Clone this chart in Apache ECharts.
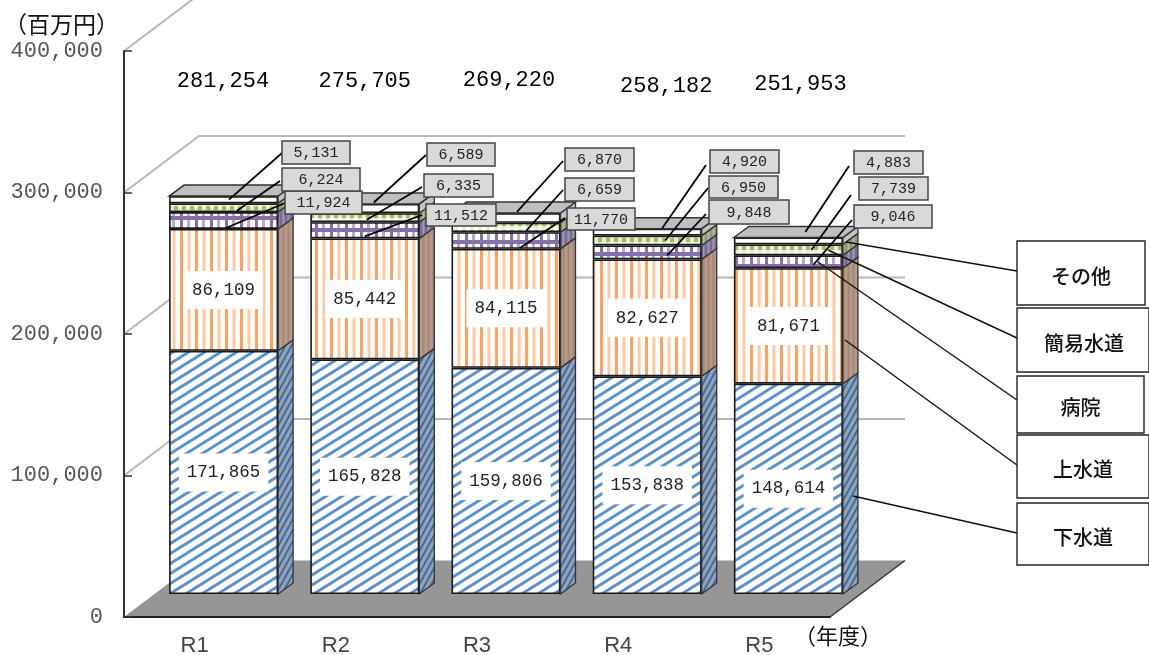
<!DOCTYPE html>
<html><head><meta charset="utf-8">
<style>html,body{margin:0;padding:0;background:#fff}#c{width:1149px;height:655px}</style>
<script src="https://cdn.jsdelivr.net/npm/echarts@6/dist/echarts.min.js"></script>
</head><body><div id="c"></div>
<script>
// ---- data ----
const categories = ['R1','R2','R3','R4','R5'];
const gesui  = [171865,165828,159806,153838,148614];
const josui  = [86109,85442,84115,82627,81671];
const byoin  = [11924,11512,11770,9848,9046];
const kani   = [6224,6335,6659,6950,7739];
const sonota = [5131,6589,6870,4920,4883];
const totals = [281254,275705,269220,258182,251953];
const seriesNames = ['下水道','上水道','病院','簡易水道','その他'];
const yTicks = [0,100000,200000,300000,400000];

// ---- annotation layout (page placement, not data) ----
const MONO = '"Liberation Mono","DejaVu Sans Mono",monospace';
const CJK = '"Noto Sans CJK JP","Noto Sans",sans-serif';
const DEPTH = [15,-11], WALL = [75,-56.5];
const totalShift = [[-0.6,-115],[0,-123],[3,-133],[19,-143],[12,-153.5]];
const boxes = {
 2:[[285,191,77,23],[426,204,70,22],[567,208,68,22],[709,200,80,24],[854,205,78,23]],
 3:[[282,168,78,23],[424,174,69,23],[565,178,69,23],[709,176,69,22],[859,177,69,23]],
 4:[[282,141,68,23],[427,143,68,23],[565,148,69,23],[710,150,69,23],[854,151,69,23]]
};
const lineStarts = {
 2:[[285,203],[422,215],[565,218],[706,214],[852,220]],
 3:[[280,181],[422,187],[563,190],[708,188],[851,195]],
 4:[[282,153],[426,155],[563,161],[706,165],[849,166]]
};
const tipShift = {
 2:[[2.4,7.5],[0,6],[14,7.5],[20,3],[25,3]],
 3:[[13.4,3],[2,2],[20,3.5],[18,0],[23,0]],
 4:[[5.4,0],[9,-6],[11,-6],[15,-4],[17,-9]]
};
const legendBoxes = [
 {name:'その他',  box:[1017,241,128,64], from:[1017,271], to:[846,242]},
 {name:'簡易水道',box:[1017,308,132,64], from:[1017,338], to:[828,250]},
 {name:'病院',    box:[1017,376,127,57], from:[1017,400], to:[818,262]},
 {name:'上水道',  box:[1017,435,132,63], from:[1017,465], to:[845,340]},
 {name:'下水道',  box:[1017,503,132,62], from:[1017,533], to:[853,496]}
];

// ---- patterns ----
function tile(w,h,draw){const c=document.createElement('canvas');c.width=w;c.height=h;const g=c.getContext('2d');g.fillStyle='#fff';g.fillRect(0,0,w,h);draw(g,w,h);return {image:c,repeat:'repeat'};}
function diag(color,lw,bg){return (g,w,h)=>{if(bg){g.fillStyle=bg;g.fillRect(0,0,w,h);}g.strokeStyle=color;g.lineWidth=lw;for(let k=-2;k<=2;k++){g.beginPath();g.moveTo(-w,2*h+k*h);g.lineTo(2*w,-h+k*h);g.stroke();}};}
function vstripes(bg,a,b){return (g,w,h)=>{g.fillStyle=bg;g.fillRect(0,0,w,h);g.fillStyle=a;g.fillRect(0,0,2,h);g.fillStyle=b;g.fillRect(3,0,1,h);};}
const pBlue = tile(16,10,diag('#5b93cf',3));
const pBlueSide = tile(6,11,diag('#3f6a9e',2,'#94a3b8'));
const pOrange = tile(15,10,(g)=>{g.fillStyle='#ffa05e';g.fillRect(0,0,3,10);g.fillStyle='#ffc9a2';g.fillRect(7.5,0,3,10);});
const pPurple = tile(15,12,(g)=>{g.fillStyle='#b9a8d2';g.fillRect(7,0,3,12);g.fillStyle='#8670a8';g.fillRect(0,0,3,12);g.fillStyle='#8670a8';g.fillRect(0,0,15,4);});
const pGreen = tile(8,8,(g)=>{g.fillStyle='#e4edc8';g.fillRect(0,0,8,8);g.fillStyle='#fff';g.beginPath();g.arc(4,4,2.6,0,7);g.fill();g.fillStyle='#9fbd62';g.fillRect(0,0,2,2);g.fillRect(6,6,2,2);g.fillRect(0,6,2,2);g.fillRect(6,0,2,2);});
const pOrangeSide = tile(5,10,vstripes('#ac917f','#b89a86','#a08878'));
const pPurpleSide = tile(5,10,vstripes('#8d83a3','#7a6d95','#a095b5'));
const pGreenSide = tile(5,6,vstripes('#9fa98a','#8e9d6e','#b2ba9f'));
const facePatterns = [pBlue,pOrange,pPurple,pGreen,'#fff'];
const sideFills = [pBlueSide,pOrangeSide,pPurpleSide,pGreenSide,'#c4c4c4'];

// ---- series ----
const values = [gesui,josui,byoin,kani,sonota];
const INK = '#1a1a1a';

const barSeries = seriesNames.map((n,s)=>({
  type:'bar',name:n,stack:'t',xAxisIndex:1,yAxisIndex:1,barWidth:'77.2%',z:2,
  data:values[s],
  itemStyle:{color:facePatterns[s],borderColor:INK,borderWidth:1.6},
  label: s<2 ? {show:true,position:'inside',formatter:p=>p.value.toLocaleString('en-US'),
    fontFamily:MONO,fontSize:17.5,color:'#222',backgroundColor:'#fff',padding:[10,8,10,8]} : {show:false}
}));

// side and top faces
const sideRows=[];
categories.forEach((c,i)=>{let low=0;values.forEach((v,s)=>{sideRows.push([i,low,low+v[i],s]);low+=v[i];});});
const sideSeries={type:'custom',xAxisIndex:1,yAxisIndex:1,z:3,silent:true,data:sideRows,
 renderItem(p,api){
  const i=api.value(0),low=api.value(1),high=api.value(2),s=api.value(3);
  const half=api.size([1,0])[0]*0.772/2;
  const a=api.coord([i,low]),b=api.coord([i,high]);
  const x1=a[0]+half,x0=a[0]-half,dx=DEPTH[0],dy=DEPTH[1];
  const kids=[{type:'polygon',shape:{points:[[x1,a[1]],[x1+dx,a[1]+dy],[x1+dx,b[1]+dy],[x1,b[1]]]},
    style:{fill:sideFills[s],stroke:'#333',lineWidth:1.3}}];
  if(s===4)kids.push({type:'polygon',shape:{points:[[x0,b[1]],[x0+dx,b[1]+dy],[x1+dx,b[1]+dy],[x1,b[1]]]},
    style:{fill:'#bfbfbf',stroke:'#333',lineWidth:1.5}});
  return {type:'group',children:kids};
 }};

// floor and wall, from the axis rectangle and ticks
const wallSeries={type:'custom',xAxisIndex:0,yAxisIndex:0,z:0,silent:true,clip:false,data:yTicks.map(v=>[0,v]),
 renderItem(p,api){
  const v=api.value(1),cs=p.coordSys,y=api.coord([0,v])[1],L=cs.x,R=cs.x+cs.width;
  if(v===0){return {type:'group',children:[
    {type:'polygon',shape:{points:[[L,y],[L+WALL[0],y+WALL[1]],[R+WALL[0],y+WALL[1]],[R,y]]},style:{fill:'#969696'}},
    {type:'line',shape:{x1:R,y1:y,x2:R+WALL[0],y2:y+WALL[1]},style:{stroke:'#333',lineWidth:1.5}}
  ]};}
  return {type:'polyline',shape:{points:[[L,y],[L+WALL[0],y+WALL[1]],[R+WALL[0],y+WALL[1]]]},style:{fill:null,stroke:'#b7b7b7',lineWidth:2}};
 }};

// callouts
const calloutRows=[];
categories.forEach((c,i)=>{[2,3,4].forEach(s=>{let low=0;for(let k=0;k<s;k++)low+=values[k][i];calloutRows.push([i,low+values[s][i]/2,values[s][i],s]);});});
const calloutSeries={type:'custom',xAxisIndex:1,yAxisIndex:1,z:6,silent:true,clip:false,data:calloutRows,
 renderItem(p,api){
  const i=api.value(0),s=api.value(3),t=api.coord([i,api.value(1)]);
  const tip=tipShift[s][i],st=lineStarts[s][i],b=boxes[s][i];
  return {type:'group',children:[
   {type:'line',shape:{x1:st[0],y1:st[1],x2:t[0]+tip[0],y2:t[1]+tip[1]},style:{stroke:'#000',lineWidth:1.8}},
   {type:'rect',shape:{x:b[0],y:b[1],width:b[2],height:b[3]},style:{fill:'#d9d9d9',stroke:'#444',lineWidth:1.5}},
   {type:'text',style:{x:b[0]+b[2]/2,y:b[1]+b[3]/2+1,text:api.value(2).toLocaleString('en-US'),align:'center',verticalAlign:'middle',font:'15px '+MONO,fill:'#222'}}
  ]};
 }};

// totals
const totalSeries={type:'custom',xAxisIndex:1,yAxisIndex:1,z:6,silent:true,clip:false,data:totals.map((v,i)=>[i,v]),
 renderItem(p,api){
  const i=api.value(0),c=api.coord([i,api.value(1)]),sh=totalShift[i];
  return {type:'text',style:{x:c[0]+sh[0],y:c[1]+sh[1],text:api.value(1).toLocaleString('en-US'),align:'center',verticalAlign:'middle',font:'22px '+MONO,fill:'#000'}};
 }};

// legend boxes with leaders
const graphics=[];
legendBoxes.forEach(l=>{
 graphics.push({type:'line',z:10,shape:{x1:l.from[0],y1:l.from[1],x2:l.to[0],y2:l.to[1]},style:{stroke:'#111',lineWidth:1.4}});
 graphics.push({type:'rect',z:11,shape:{x:l.box[0],y:l.box[1],width:l.box[2],height:l.box[3]},style:{fill:'#fff',stroke:'#222',lineWidth:1.4}});
 graphics.push({type:'text',z:12,style:{x:l.box[0]+l.box[2]/2+(l.name==='簡易水道'?1:0),y:l.box[1]+l.box[3]/2+3,text:l.name,align:'center',verticalAlign:'middle',font:'500 20px '+CJK,fill:'#111'}});
});

const chart=echarts.init(document.getElementById('c'),null,{renderer:'canvas'});
chart.setOption({
 animation:false,backgroundColor:'#fff',
 grid:[{left:124,top:51,width:706,height:566,outerBoundsMode:'none'},{left:153,top:28,width:706,height:566,outerBoundsMode:'none'}],
 xAxis:[
  {type:'category',gridIndex:0,data:categories,
   axisLine:{lineStyle:{color:'#222',width:2}},axisTick:{inside:true,length:8,lineStyle:{color:'#333',width:1.5}},
   axisLabel:{margin:18,color:'#444',fontFamily:'"Liberation Sans Narrow","Liberation Sans",sans-serif',fontSize:22},
   name:'（年度）',nameLocation:'end',nameGap:-36,
   nameTextStyle:{fontFamily:CJK,fontSize:22,color:'#111',align:'left',verticalAlign:'top',padding:[8,0,0,0]}},
  {type:'category',gridIndex:1,data:categories,show:false}
 ],
 yAxis:[
  {type:'value',gridIndex:0,min:0,max:400000,interval:100000,
   axisLine:{show:true,lineStyle:{color:'#333',width:2}},axisTick:{show:true,inside:true,length:8,lineStyle:{color:'#333',width:1.5}},
   splitLine:{show:false},
   axisLabel:{margin:21,color:'#555',fontFamily:MONO,fontSize:22,formatter:v=>v.toLocaleString('en-US')},
   name:'（百万円）',nameLocation:'end',nameGap:15,
   nameTextStyle:{fontFamily:CJK,fontSize:23,color:'#111',align:'right',verticalAlign:'bottom',padding:[0,5,0,0]}},
  {type:'value',gridIndex:1,min:0,max:400000,interval:100000,show:false,splitLine:{show:false}}
 ],
 series:[wallSeries,...barSeries,sideSeries,calloutSeries,totalSeries],
 graphic:graphics
});
</script></body></html>
